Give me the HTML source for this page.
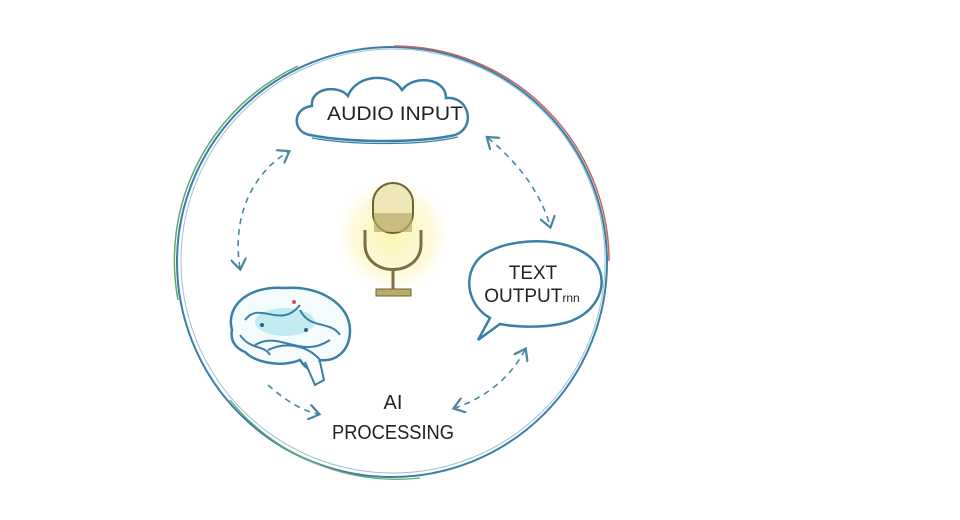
<!DOCTYPE html>
<html><head><style>body{margin:0;background:#fff}svg{display:block}</style></head><body>
<svg width="960" height="520" viewBox="0 0 960 520" xmlns="http://www.w3.org/2000/svg">
<defs>
<radialGradient id="g"><stop offset="0" stop-color="#fbf3a8" stop-opacity="0.9"/><stop offset="0.7" stop-color="#fcf6c8" stop-opacity="0.6"/><stop offset="1" stop-color="#fff" stop-opacity="0"/></radialGradient>
<marker id="a" markerWidth="10" markerHeight="10" refX="6" refY="5" orient="auto-start-reverse"><path d="M0,0 L7,5 L0,10" fill="none" stroke="#4a86a0" stroke-width="1.4"/></marker>
</defs>
<circle cx="392" cy="262" r="215" fill="none" stroke="#3a7fa6" stroke-width="2"/>
<path d="M392 47 A215 215 0 0 1 607 262" fill="none" stroke="#c8625a" stroke-width="1.5" transform="translate(2,-1)"/>
<path d="M180 300 A215 215 0 0 1 300 66" fill="none" stroke="#5fa870" stroke-width="1.5" transform="translate(-2,0)"/>
<path d="M230 400 A215 215 0 0 0 420 478" fill="none" stroke="#6aaa78" stroke-width="1.3"/>
<circle cx="393" cy="261" r="212" fill="none" stroke="#5a9ab8" stroke-width="1" opacity="0.6"/>
<path d="M310 135 C292 132 292 108 312 106 C310 88 338 84 348 96 C356 74 392 72 402 90 C414 74 446 78 446 98 C470 96 476 128 455 135 C420 143 350 143 310 135 Z" fill="#fff" stroke="#3a7fa6" stroke-width="2.5"/>
<path d="M312 138 C350 145 420 146 458 137" fill="none" stroke="#3a7fa6" stroke-width="1.2"/>
<text x="395" y="120" text-anchor="middle" font-family="Liberation Sans,sans-serif" font-size="19" fill="#222" textLength="136" lengthAdjust="spacingAndGlyphs">AUDIO INPUT</text>
<path d="M490 318 C462 302 462 262 492 250 C522 236 575 238 595 262 C612 285 595 318 560 324 C540 328 515 327 500 324 L478 340 L490 318 Z" fill="#fff" stroke="#3a7fa6" stroke-width="2.5"/>
<text x="533" y="279" text-anchor="middle" font-family="Liberation Sans,sans-serif" font-size="19" fill="#222">TEXT</text>
<text x="532" y="302" text-anchor="middle" font-family="Liberation Sans,sans-serif" font-size="19" fill="#222">OUTPUT<tspan font-size="12">rnn</tspan></text>
<circle cx="393" cy="235" r="60" fill="url(#g)"/>
<rect x="373" y="183" width="40" height="50" rx="20" fill="#efe7b8" stroke="#6b6530" stroke-width="2"/>
<rect x="374" y="213" width="38" height="19" fill="#b9ab6a" opacity="0.7"/>
<path d="M365 230 L365 244 C365 278 421 278 421 244 L421 230" fill="none" stroke="#7a7040" stroke-width="3"/>
<line x1="393" y1="270" x2="393" y2="290" stroke="#7a7040" stroke-width="3"/>
<rect x="376" y="289" width="35" height="7" fill="#b9ab6a" stroke="#6b6530"/>
<path d="M232 330 C225 305 250 285 285 288 C320 285 350 305 350 330 C350 352 335 362 320 360 C318 370 310 375 300 360 C280 368 255 362 245 352 C235 348 230 340 232 330 Z" fill="#f4fbfd" stroke="#3a7fa6" stroke-width="2.5"/>
<ellipse cx="285" cy="322" rx="30" ry="14" fill="#9ee0ea" opacity="0.6"/>
<path d="M245 320 C260 300 280 330 300 305 M255 345 C280 330 300 360 330 340 M300 310 C310 330 330 320 340 335 M240 335 C250 350 265 345 270 355 M268 350 C290 340 310 348 320 360" fill="none" stroke="#3a7fa6" stroke-width="2"/>
<path d="M305 362 L315 385 L324 380 L320 362" fill="#fff" stroke="#3a7fa6" stroke-width="2"/>
<circle cx="294" cy="302" r="2" fill="#d05050"/>
<circle cx="262" cy="325" r="2" fill="#2a6090"/><circle cx="306" cy="330" r="2" fill="#2a6090"/>
<g fill="none" stroke="#4a86a0" stroke-width="1.6" stroke-dasharray="6 5">
<path d="M240 268 C232 220 250 175 288 152" marker-end="url(#a)" marker-start="url(#a)"/>
<path d="M488 138 C515 160 540 190 550 226" marker-end="url(#a)" marker-start="url(#a)"/>
<path d="M525 350 C510 378 485 398 455 408" marker-end="url(#a)" marker-start="url(#a)"/>
<path d="M268 385 C285 400 300 410 318 414" marker-end="url(#a)"/>
</g>
<text x="393" y="409" text-anchor="middle" font-family="Liberation Sans,sans-serif" font-size="20" fill="#222">AI</text>
<text x="393" y="439" text-anchor="middle" font-family="Liberation Sans,sans-serif" font-size="20" fill="#222" textLength="122" lengthAdjust="spacingAndGlyphs">PROCESSING</text>
</svg>
</body></html>
